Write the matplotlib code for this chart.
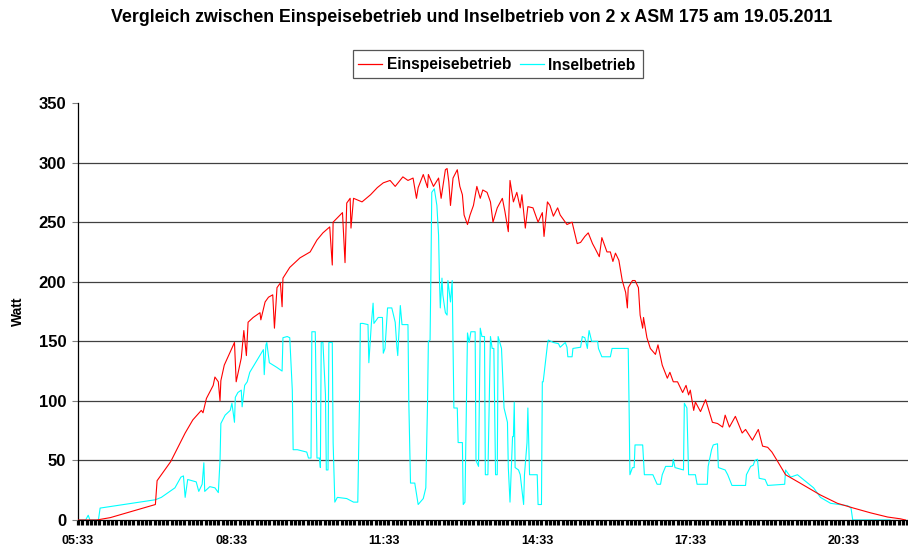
import matplotlib
matplotlib.use("Agg")
import matplotlib.pyplot as plt
from matplotlib.ticker import MultipleLocator, FuncFormatter
from matplotlib.lines import Line2D
from matplotlib.patches import Rectangle

plt.rcParams['font.family'] = ['Liberation Sans', 'DejaVu Sans']

title = "Vergleich zwischen Einspeisebetrieb und Inselbetrieb von 2 x ASM 175 am 19.05.2011"
series_names = ["Einspeisebetrieb", "Inselbetrieb"]
series_colors = ['#FF0000', '#00FFFF']
start_clock = 5 * 60 + 33  # 05:33

# minutes after 05:33, Watt
einspeise_min = [0, 22, 38, 91, 93, 109, 126, 135, 145, 147, 151, 159, 161, 165, 167, 168, 172, 184, 186, 192,
                 195, 198, 200, 206, 214, 215, 220, 224, 229, 231, 234, 238, 240, 241, 249, 261, 273, 281, 288, 296,
                 299, 300, 311, 314, 316, 320, 321, 324, 334, 344, 352, 359, 367, 373, 382, 388, 394, 398, 400, 406,
                 411, 412, 418, 424, 427, 432, 434, 436, 438, 441, 446, 449, 452, 454, 458, 461, 465, 469, 473, 476,
                 481, 485, 488, 493, 499, 502, 506, 508, 512, 516, 520, 522, 526, 529, 535, 541, 546, 548, 552, 555,
                 559, 564, 567, 571, 575, 581, 587, 591, 596, 600, 605, 608, 613, 616, 622, 626, 629, 632, 636, 640,
                 644, 646, 647, 652, 655, 659, 661, 664, 665, 669, 673, 679, 682, 687, 693, 696, 700, 705, 711, 715,
                 718, 720, 724, 726, 732, 738, 741, 746, 752, 758, 761, 766, 773, 781, 785, 793, 800, 805, 811, 816,
                 822, 832, 849, 873, 893, 912, 932, 952, 967, 973]
einspeise_w = [0, 0, 2, 13, 33, 49, 73, 84, 92, 90, 102, 113, 120, 116, 100, 117, 130, 149, 116, 136,
               159, 138, 166, 170, 174, 168, 183, 187, 189, 161, 195, 199, 179, 203, 212, 220, 225, 235, 241, 246,
               214, 250, 258, 216, 266, 270, 245, 270, 267, 273, 279, 283, 285, 280, 288, 285, 287, 270, 279, 290,
               279, 290, 280, 287, 270, 294, 295, 284, 264, 287, 294, 280, 273, 256, 248, 256, 264, 280, 270, 277,
               275, 267, 250, 262, 270, 259, 242, 285, 267, 275, 262, 273, 245, 263, 262, 250, 258, 238, 267, 264,
               255, 262, 256, 252, 248, 250, 232, 233, 238, 241, 232, 228, 221, 237, 225, 225, 217, 224, 218, 201,
               191, 178, 195, 201, 201, 195, 172, 161, 170, 153, 144, 139, 147, 130, 119, 124, 116, 116, 107, 113,
               105, 109, 92, 99, 91, 101, 94, 82, 81, 78, 88, 78, 87, 73, 76, 67, 76, 62, 61, 57,
               50, 38, 31, 21, 14, 10, 6, 2.5, 1, 0]

insel_min = [0, 9, 12, 14, 24, 26, 91, 98, 114, 121, 124, 126, 129, 139, 142, 146, 148, 149, 155, 161,
             165, 167, 168, 173, 179, 181, 184, 185, 188, 192, 193, 196, 199, 202, 218, 219, 221, 222, 225, 234,
             240, 241, 246, 249, 252, 253, 258, 269, 271, 274, 275, 279, 280, 281, 284, 285, 286, 288, 291, 292,
             294, 295, 299, 300, 302, 305, 316, 324, 329, 331, 332, 335, 341, 342, 345, 347, 348, 353, 358, 359,
             361, 364, 369, 373, 375, 376, 379, 381, 388, 389, 391, 396, 400, 406, 409, 411, 412, 414, 415, 416,
             419, 422, 424, 425, 426, 428, 429, 432, 434, 435, 438, 440, 441, 442, 446, 447, 452, 453, 455, 458,
             460, 462, 467, 468, 471, 473, 475, 478, 479, 482, 485, 487, 489, 491, 493, 494, 498, 499, 501, 505,
             506, 508, 511, 512, 513, 514, 518, 520, 524, 525, 528, 529, 531, 540, 541, 545, 546, 547, 552, 553,
             559, 565, 567, 573, 575, 576, 581, 582, 591, 593, 596, 599, 600, 601, 604, 611, 612, 616, 626, 628,
             647, 648, 649, 652, 654, 655, 664, 666, 676, 681, 685, 687, 691, 699, 700, 702, 712, 713, 716, 718,
             726, 728, 740, 741, 745, 747, 752, 753, 761, 764, 769, 785, 786, 791, 794, 796, 799, 801, 808, 811,
             831, 832, 838, 846, 858, 865, 873, 885, 905, 909, 911, 955]
insel_w = [0, 0, 4, 0, 0, 10, 17, 19, 27, 36, 37, 19, 34, 32, 24, 30, 48, 24, 28, 27,
           23, 50, 81, 88, 92, 98, 82, 103, 107, 109, 95, 113, 116, 124, 143, 122, 147, 149, 132, 128,
           125, 153, 154, 153, 109, 59, 59, 57, 52, 52, 158, 158, 111, 52, 52, 44, 149, 149, 105, 42,
           42, 149, 149, 65, 15, 19, 18, 15, 15, 99, 165, 165, 164, 132, 165, 182, 165, 170, 170, 140,
           144, 178, 178, 166, 145, 138, 180, 164, 164, 99, 31, 31, 13, 18, 27, 98, 150, 151, 208, 275,
           278, 264, 239, 203, 178, 203, 189, 174, 172, 201, 183, 201, 149, 94, 94, 65, 65, 13, 15, 157,
           149, 158, 158, 50, 45, 161, 154, 154, 38, 38, 154, 144, 144, 38, 38, 154, 144, 128, 94, 82,
           44, 15, 70, 70, 99, 44, 42, 38, 13, 38, 65, 94, 38, 38, 13, 13, 116, 116, 147, 151,
           149, 148, 145, 149, 145, 137, 137, 144, 145, 154, 153, 144, 153, 159, 150, 150, 144, 137, 137, 144,
           144, 97, 38, 44, 44, 63, 63, 38, 38, 30, 30, 38, 45, 45, 51, 44, 42, 98, 94, 38,
           38, 30, 30, 45, 59, 63, 64, 44, 42, 38, 29, 29, 38, 45, 46, 50, 51, 35, 34, 29,
           30, 42, 36, 38, 31, 27, 19, 14, 12, 10, 0, 0]

y_ticks = [0, 50, 100, 150, 200, 250, 300, 350]
label_every_min = 180
tick_every_min = 5

W, H = 908, 546
fig = plt.figure(figsize=(W / 100, H / 100), dpi=100)
L, R, T, B = 78, 908, 103, 520
ax = fig.add_axes([L / W, 1 - B / H, (R - L) / W, (B - T) / H])

ax.plot(einspeise_min, einspeise_w, color=series_colors[0], lw=0.8, zorder=3)
ax.plot(insel_min, insel_w, color=series_colors[1], lw=0.8, zorder=2)

ax.set_ylim(0, 350)
ax.set_xlim(0, 976)
ax.set_yticks(y_ticks)
for v in y_ticks[1:-1]:
    ax.axhline(v, color='#404040', lw=0.9, zorder=1)

ax.xaxis.set_major_locator(MultipleLocator(label_every_min))
ax.xaxis.set_minor_locator(MultipleLocator(tick_every_min))
ax.xaxis.set_major_formatter(FuncFormatter(
    lambda m, p: "%02d:%02d" % (((start_clock + int(round(m))) // 60) % 24, (start_clock + int(round(m))) % 60)))
ax.tick_params(axis='x', which='both', direction='out', length=3.8, width=2.3, color='black', pad=7,
               labelsize=9)
ax.tick_params(axis='y', direction='out', length=4.5, width=0.8, color='#808080', labelsize=12, pad=4)
for lab in ax.get_xticklabels() + ax.get_yticklabels():
    lab.set_fontweight('bold')

for s in ['top', 'right']:
    ax.spines[s].set_visible(False)
ax.spines['left'].set_color('black')
ax.spines['bottom'].set_color('black')
ax.spines['left'].set_linewidth(0.9)
ax.spines['bottom'].set_linewidth(0.9)

fig.text(18 / W, 1 - 311 / H, "Watt", rotation=90, ha='center', va='center', fontsize=10, fontweight='bold')
fig.text(472 / W, 1 - 18 / H, title, ha='center', va='center', fontsize=12.8, fontweight='bold')

# legend box (figure pixel layout)
def fx(px):
    return px / W

def fy(py):
    return 1 - py / H

fig.patches.append(Rectangle((fx(353), fy(78)), fx(643) - fx(353), fy(50) - fy(78), transform=fig.transFigure,
                             facecolor='white', edgecolor='#555555', lw=0.9, zorder=5))
for (x0, x1, xt), name, col in zip([(358, 382, 387), (520, 544, 548)], series_names, series_colors):
    fig.lines.append(Line2D([fx(x0), fx(x1)], [fy(64), fy(64)], transform=fig.transFigure, color=col, lw=0.9,
                            zorder=6))
    fig.text(fx(xt), fy(69.5), name, ha='left', va='baseline', fontsize=11.2, fontweight='bold', zorder=6)

fig.savefig("out.png", dpi=100)
